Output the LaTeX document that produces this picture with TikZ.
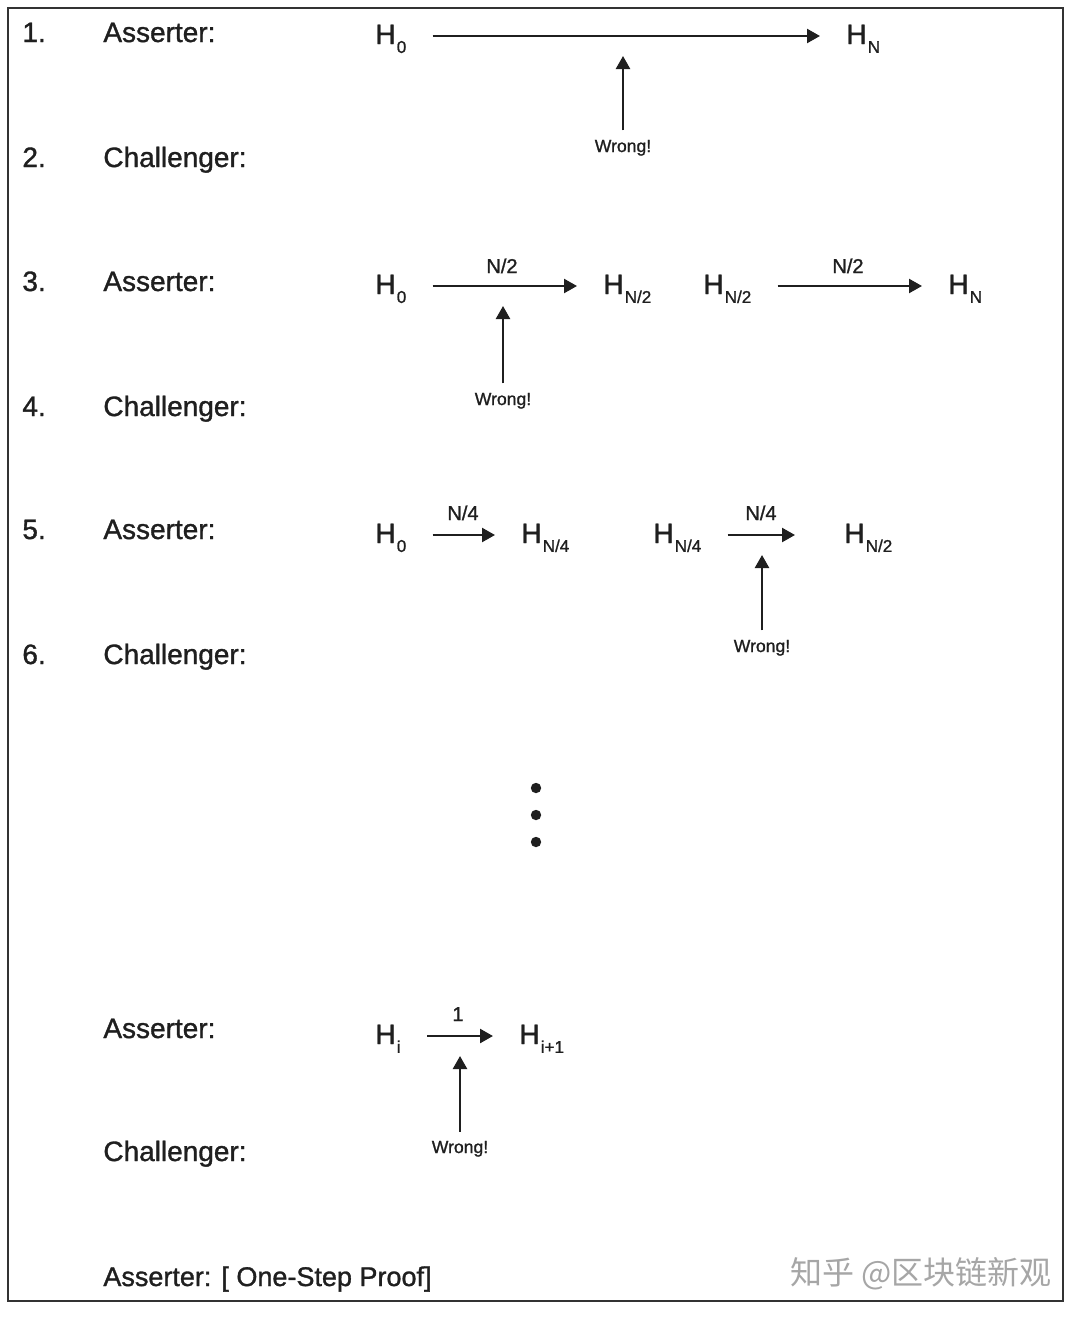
\documentclass[tikz,border=0pt]{standalone}
\usepackage{fontspec}
\setmainfont{Liberation Sans}[FakeBold=1.2]
\newfontfamily\cjk{Noto Sans CJK SC}
\usetikzlibrary{arrows.meta}

% H with a lowered index
\newcommand{\hsub}[1]{H\kern0.6pt\raisebox{-0.6ex}{\fontsize{8.5}{10}\selectfont #1}}

\tikzset{
	role/.style={anchor=base west, inner sep=0pt, text=black!88, font=\fontsize{14}{16}\selectfont},
	hash/.style={anchor=base west, inner sep=0pt, text height=10pt, text depth=2pt, text=black!88, font=\fontsize{14}{16}\selectfont},
	steps/.style={anchor=base, inner sep=0pt, text=black!88, font=\fontsize{10}{12}\selectfont},
	wrong/.style={anchor=base, inner sep=0pt, text=black!88, font=\fontsize{8.8}{10}\selectfont},
	go/.style={-{Triangle[length=6.5pt,width=7pt]}, line width=1.2pt, black!88, shorten <=13pt, shorten >=13pt},
	up/.style={-{Triangle[length=6.5pt,width=7pt]}, line width=1.2pt, black!88, shorten <=4.5pt, shorten >=10pt},
}

\begin{document}
\begin{tikzpicture}[x=0.5pt,y=-0.5pt]
	\useasboundingbox (0,0) rectangle (1080,1317);
	\draw[line width=1pt, black!80] (8,8) rectangle (1063,1301);

	% 1. / 2.
	\node[role] (n1) at (22,42) {1.};
	\node[role] (a1) at (103,42) {Asserter:};
	\node[hash] (h10) at (375,44) {\hsub{0}};
	\node[hash] (h1N) at (846,44) {\hsub{N}};
	\draw[go] (h10.east) -- (h1N.west);
	\node[role] (n2) at (22,167) {2.};
	\node[role] (c2) at (103,167) {Challenger:};
	\node[wrong] (w1) at (623,152) {Wrong!};
	\draw[up] (w1.north) -- (w1 |- h10.east);

	% 3. / 4.
	\node[role] (n3) at (22,291) {3.};
	\node[role] (a3) at (103,291) {Asserter:};
	\node[hash] (h30) at (375,294) {\hsub{0}};
	\node[hash] (h3a) at (603,294) {\hsub{N/2}};
	\node[hash] (h3b) at (703,294) {\hsub{N/2}};
	\node[hash] (h3N) at (948,294) {\hsub{N}};
	\draw[go] (h30.east) -- (h3a.west);
	\draw[go] (h3b.east) -- (h3N.west);
	\node[steps] (s3a) at (502,273) {N/2};
	\node[steps] (s3b) at (848,273) {N/2};
	\node[role] (n4) at (22,416) {4.};
	\node[role] (c4) at (103,416) {Challenger:};
	\node[wrong] (w3) at (503,405) {Wrong!};
	\draw[up] (w3.north) -- (w3 |- h30.east);

	% 5. / 6.
	\node[role] (n5) at (22,539) {5.};
	\node[role] (a5) at (103,539) {Asserter:};
	\node[hash] (h50) at (375,543) {\hsub{0}};
	\node[hash] (h5a) at (521,543) {\hsub{N/4}};
	\node[hash] (h5b) at (653,543) {\hsub{N/4}};
	\node[hash] (h5c) at (844,543) {\hsub{N/2}};
	\draw[go] (h50.east) -- (h5a.west);
	\draw[go, shorten >=24.5pt] (h5b.east) -- (h5c.west);
	\node[steps] (s5a) at (463,520) {N/4};
	\node[steps] (s5b) at (761,520) {N/4};
	\node[role] (n6) at (22,664) {6.};
	\node[role] (c6) at (103,664) {Challenger:};
	\node[wrong] (w5) at (762,652) {Wrong!};
	\draw[up] (w5.north) -- (w5 |- h5b.east);

	% dots
	\foreach \y in {788,815,842}
		\fill[black!88] (536,\y) circle (2.6pt);

	% last round
	\node[role] (a7) at (103,1038) {Asserter:};
	\node[hash] (h70) at (375,1044) {\hsub{i}};
	\node[hash] (h71) at (519,1044) {\hsub{i+1}};
	\draw[go] (h70.east) -- (h71.west);
	\node[steps] (s7) at (458,1021) {1};
	\node[role] (c7) at (103,1161) {Challenger:};
	\node[wrong] (w7) at (460,1153) {Wrong!};
	\draw[up] (w7.north) -- (w7 |- h70.east);

	\node[role, font=\fontsize{13.5}{16}\selectfont] (proof) at (103,1286) {Asserter: [ One-Step Proof]};
	\node[anchor=base west, inner sep=0pt, text=black!35, font=\cjk\fontsize{16}{18}\selectfont] (mark) at (790,1284) {知乎 @区块链新观};
\end{tikzpicture}
\end{document}
